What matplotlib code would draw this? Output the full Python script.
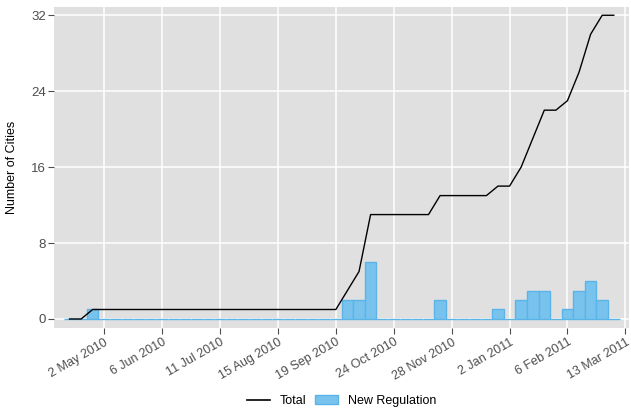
# encoding utf-8

import datetime as dt

import matplotlib
matplotlib.use('Agg')
from matplotlib import pyplot as plt
from matplotlib import dates as mdates
from matplotlib.lines import Line2D
from matplotlib.patches import Patch
import pandas as pd

plt.rcParams['font.family'] = ['Liberation Sans', 'DejaVu Sans']

# weekly observations, 11 Apr 2010 .. 6 Mar 2011
weeks = pd.date_range('2010-04-11', '2011-03-06', freq='7D')

new_regulation = [0, 0, 1, 0, 0, 0, 0, 0, 0, 0, 0, 0,
                  0, 0, 0, 0, 0, 0, 0, 0, 0, 0, 0, 0,
                  2, 2, 6, 0, 0, 0, 0, 0, 2, 0, 0, 0,
                  0, 1, 0, 2, 3, 3, 0, 1, 3, 4, 2, 0]

total = [0, 0, 1, 1, 1, 1, 1, 1, 1, 1, 1, 1,
         1, 1, 1, 1, 1, 1, 1, 1, 1, 1, 1, 1,
         3, 5, 11, 11, 11, 11, 11, 11, 13, 13, 13, 13,
         13, 14, 14, 16, 19, 22, 22, 23, 26, 30, 32, 32]

tick_dates = ['2010-05-02', '2010-06-06', '2010-07-11', '2010-08-15',
              '2010-09-19', '2010-10-24', '2010-11-28', '2011-01-02',
              '2011-02-06', '2011-03-13']
tick_labels = ['2 May 2010', '6 Jun 2010', '11 Jul 2010', '15 Aug 2010',
               '19 Sep 2010', '24 Oct 2010', '28 Nov 2010', '2 Jan 2011',
               '6 Feb 2011', '13 Mar 2011']
y_ticks = [0, 8, 16, 24, 32]


def regulation_plot():
    fig = plt.figure(figsize=(6.31, 4.08), dpi=100)
    ax = fig.add_axes([54.3 / 631, 1 - 328 / 408, (629 - 54.3) / 631, (328 - 7) / 408])
    ax.set_facecolor('#e0e0e0')

    # bars for new regulations each week (zero weeks show as the baseline)
    ax.bar(weeks, new_regulation, width=7, color='#78c2ee', edgecolor='#5ab4e8',
           linewidth=1.0, zorder=2)

    # cumulative total
    ax.plot(weeks, total, color='black', linewidth=1.0, zorder=3)

    tick_pos = [mdates.date2num(pd.Timestamp(d)) for d in tick_dates]
    ax.set_xticks(tick_pos)
    ax.set_xticklabels(tick_labels, rotation=30, ha='right', rotation_mode='anchor',
                       fontsize=9, color='#4d4d4d')
    ax.set_yticks(y_ticks)
    ax.set_yticklabels([str(v) for v in y_ticks], fontsize=9.5, color='#4d4d4d')

    x0 = mdates.date2num(dt.datetime(2010, 5, 2)) - 30.2
    x1 = mdates.date2num(dt.datetime(2011, 3, 13)) + 2.2
    ax.set_xlim(x0, x1)
    ax.set_ylim(-0.95, 32.87)

    ax.grid(True, color='white', linewidth=1.1, zorder=0)
    ax.set_axisbelow(True)
    for s in ax.spines.values():
        s.set_visible(False)
    ax.tick_params(axis='both', length=4, width=0.8, color='#4d4d4d', pad=2)

    fig.text(12 / 631, 1 - 167.5 / 408, 'Number of Cities', rotation=90,
             ha='center', va='center', fontsize=9)

    handles = [Line2D([], [], color='black', linewidth=1.2),
               Patch(facecolor='#78c2ee', edgecolor='#5ab4e8')]
    fig.legend(handles, ['Total', 'New Regulation'], loc='center', ncol=2,
               bbox_to_anchor=(341.5 / 631, 1 - 401 / 408), frameon=False,
               fontsize=9, handlelength=1.8, handleheight=0.7,
               handletextpad=0.8, columnspacing=0.7, borderpad=0)

    fig.savefig('out.png', dpi=100)


if __name__ == '__main__':
    regulation_plot()
